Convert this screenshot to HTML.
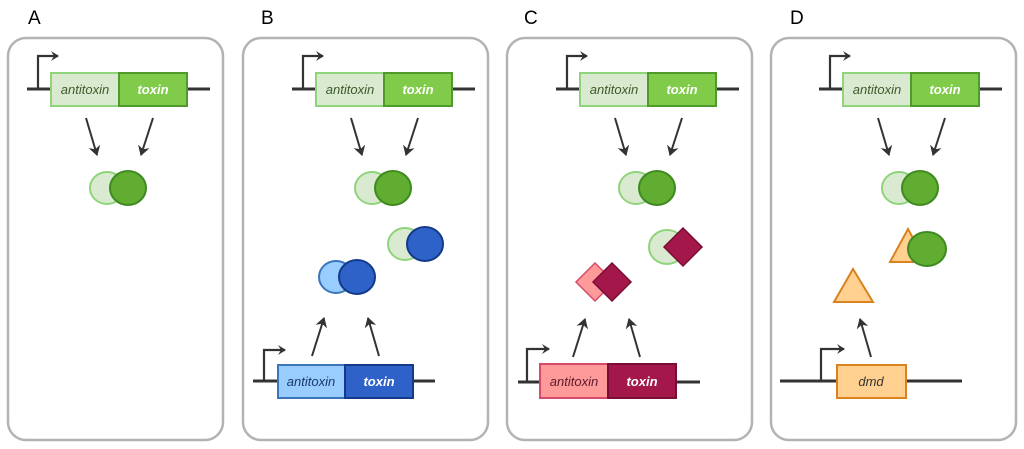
<!DOCTYPE html>
<html><head><style>
html,body{margin:0;padding:0;background:#fff;}
svg{display:block;}
text{font-family:"Liberation Sans","DejaVu Sans",sans-serif;}
.g{font-style:italic;font-size:13px;}
</style></head><body>
<svg width="1024" height="449" viewBox="0 0 1024 449" xmlns="http://www.w3.org/2000/svg">
<defs>
<marker id="ah" markerWidth="10" markerHeight="10" refX="7" refY="5" orient="auto" markerUnits="userSpaceOnUse">
<path d="M0,0 L8,5 L0,10 L3,5 Z" fill="#333"/></marker>
<marker id="ah2" markerWidth="12" markerHeight="12" refX="9" refY="6" orient="auto" markerUnits="userSpaceOnUse">
<path d="M0,0 L10,6 L0,12 L3,6 Z" fill="#333"/></marker>
<g id="topgene">
<line x1="27" y1="89" x2="210" y2="89" stroke="#333" stroke-width="3"/>
<polyline points="38,89 38,56 58,56" fill="none" stroke="#333" stroke-width="2.2" marker-end="url(#ah)"/>
<rect x="51" y="73" width="68" height="33" fill="#d9ead0" stroke="#8fd47a" stroke-width="2"/>
<rect x="119" y="73" width="68" height="33" fill="#80cc4a" stroke="#4e9a2a" stroke-width="2"/>
<text x="85" y="94" class="g" text-anchor="middle" fill="#3d5a2a">antitoxin</text>
<text x="153" y="94" class="g" text-anchor="middle" fill="#fff" font-weight="bold">toxin</text>
<line x1="86" y1="118" x2="97" y2="155" stroke="#333" stroke-width="2" marker-end="url(#ah2)"/>
<line x1="153" y1="118" x2="141" y2="155" stroke="#333" stroke-width="2" marker-end="url(#ah2)"/>
<ellipse cx="107" cy="188" rx="17" ry="16" fill="#d9ead0" stroke="#8fd47a" stroke-width="2"/>
<ellipse cx="128" cy="188" rx="18" ry="17" fill="#60ad32" stroke="#3f8a20" stroke-width="2"/>
</g>
</defs>
<g fill="none" stroke="#b3b3b3" stroke-width="2.5">
<rect x="8" y="38" width="215" height="402" rx="18"/>
<rect x="243" y="38" width="245" height="402" rx="18"/>
<rect x="507" y="38" width="245" height="402" rx="18"/>
<rect x="771" y="38" width="245" height="402" rx="18"/>
</g>
<g font-size="19" fill="#000">
<text x="28" y="24">A</text><text x="261" y="24">B</text><text x="524" y="24">C</text><text x="790" y="24">D</text>
</g>
<use href="#topgene"/>
<use href="#topgene" x="265"/>
<use href="#topgene" x="529"/>
<use href="#topgene" x="792"/>
<!-- B -->
<ellipse cx="405" cy="244" rx="17" ry="16" fill="#d9ead0" stroke="#8fd47a" stroke-width="2"/>
<ellipse cx="425" cy="244" rx="18" ry="17" fill="#2e62c8" stroke="#143a8a" stroke-width="2"/>
<ellipse cx="336" cy="277" rx="17" ry="16" fill="#99ccff" stroke="#3a76b8" stroke-width="2"/>
<ellipse cx="357" cy="277" rx="18" ry="17" fill="#2e62c8" stroke="#143a8a" stroke-width="2"/>
<line x1="253" y1="381" x2="435" y2="381" stroke="#333" stroke-width="3"/>
<polyline points="264,381 264,350 285,350" fill="none" stroke="#333" stroke-width="2.2" marker-end="url(#ah)"/>
<rect x="278" y="365" width="67" height="33" fill="#99ccff" stroke="#3a76b8" stroke-width="2"/>
<rect x="345" y="365" width="68" height="33" fill="#2e62c8" stroke="#143a8a" stroke-width="2"/>
<text x="311" y="386" class="g" text-anchor="middle" fill="#1a3a6a">antitoxin</text>
<text x="379" y="386" class="g" text-anchor="middle" fill="#fff" font-weight="bold">toxin</text>
<line x1="312" y1="356" x2="324" y2="318" stroke="#333" stroke-width="2" marker-end="url(#ah2)"/>
<line x1="379" y1="356" x2="368" y2="318" stroke="#333" stroke-width="2" marker-end="url(#ah2)"/>
<!-- C -->
<ellipse cx="667" cy="247" rx="18" ry="17" fill="#d9ead0" stroke="#8fd47a" stroke-width="2"/>
<polygon points="683,228 702,247 683,266 664,247" fill="#a3174a" stroke="#7a0d33" stroke-width="1.5"/>
<polygon points="595,263 614,282 595,301 576,282" fill="#ff9a9a" stroke="#d84a6a" stroke-width="1.5"/>
<polygon points="612,263 631,282 612,301 593,282" fill="#a3174a" stroke="#7a0d33" stroke-width="1.5"/>
<line x1="518" y1="382" x2="700" y2="382" stroke="#333" stroke-width="3"/>
<polyline points="527,382 527,349 549,349" fill="none" stroke="#333" stroke-width="2.2" marker-end="url(#ah)"/>
<rect x="540" y="364" width="68" height="34" fill="#ff9a9a" stroke="#d84a6a" stroke-width="2"/>
<rect x="608" y="364" width="68" height="34" fill="#a3174a" stroke="#7a0d33" stroke-width="2"/>
<text x="574" y="386" class="g" text-anchor="middle" fill="#5a1a2a">antitoxin</text>
<text x="642" y="386" class="g" text-anchor="middle" fill="#fff" font-weight="bold">toxin</text>
<line x1="573" y1="357" x2="585" y2="319" stroke="#333" stroke-width="2" marker-end="url(#ah2)"/>
<line x1="640" y1="357" x2="629" y2="319" stroke="#333" stroke-width="2" marker-end="url(#ah2)"/>
<!-- D -->
<polygon points="908,229 926,262 890,262" fill="#ffd08f" stroke="#d9831f" stroke-width="2"/>
<ellipse cx="927" cy="249" rx="19" ry="17" fill="#60ad32" stroke="#3f8a20" stroke-width="2"/>
<polygon points="853,269 873,302 834,302" fill="#ffd08f" stroke="#d9831f" stroke-width="2"/>
<line x1="780" y1="381" x2="962" y2="381" stroke="#333" stroke-width="3"/>
<polyline points="821,381 821,349 844,349" fill="none" stroke="#333" stroke-width="2.2" marker-end="url(#ah)"/>
<rect x="837" y="365" width="69" height="33" fill="#ffd08f" stroke="#d9831f" stroke-width="2"/>
<text x="871" y="386" class="g" text-anchor="middle" fill="#333">dmd</text>
<line x1="871" y1="357" x2="860" y2="319" stroke="#333" stroke-width="2" marker-end="url(#ah2)"/>
</svg>
</body></html>
